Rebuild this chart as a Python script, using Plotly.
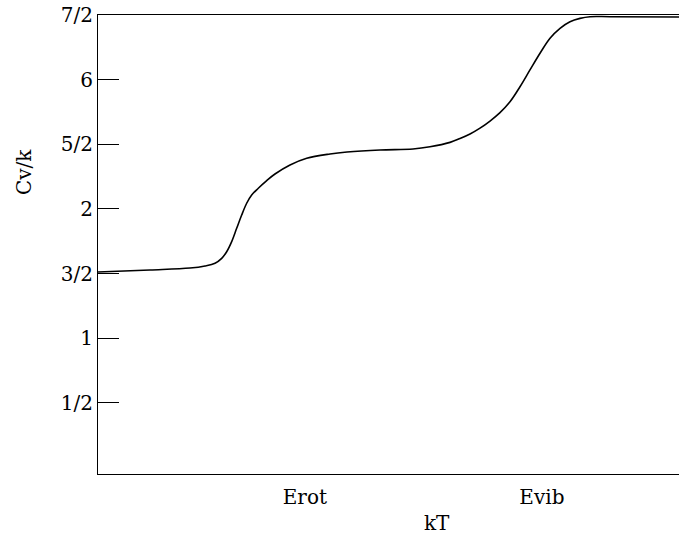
import plotly.graph_objects as go

# kT (arbitrary linear units, 0..100) and Cv/k values
kT = [0, 8.95, 15.83, 18.42, 20.14, 21.29, 22.15, 23.01, 23.87, 24.73, 25.59,
      26.45, 27.59, 29.04, 30.46, 33.05, 35.92, 39.93, 42.86, 48.54, 54.22,
      57.14, 60.59, 62.31, 64.03, 65.75, 67.47, 69.19, 70.91, 72.63, 74.35,
      76.08, 77.80, 79.52, 81.24, 82.96, 84.68, 88.12, 100]
cv = [1.512, 1.528, 1.543, 1.559, 1.580, 1.618, 1.669, 1.747, 1.850, 1.953, 2.044,
      2.108, 2.160, 2.219, 2.270, 2.340, 2.392, 2.425, 2.440, 2.456, 2.464,
      2.481, 2.515, 2.545, 2.580, 2.625, 2.680, 2.745, 2.829, 2.945, 3.075,
      3.204, 3.320, 3.397, 3.448, 3.474, 3.487, 3.487, 3.485]

y_tickvals = [0.5, 1, 1.5, 2, 2.5, 3, 3.5]
y_ticktext = ["1/2", "1", "3/2", "2", "5/2", "6", "7/2"]
x_tickvals = [35.6, 76.4]
x_ticktext = ["Erot", "Evib"]

FONT = "DejaVu Serif"

fig = go.Figure()
fig.add_trace(go.Scatter(
    x=kT, y=cv, mode="lines",
    line=dict(color="black", width=1.6, shape="spline", smoothing=1.0),
    hoverinfo="skip", showlegend=False,
))

fig.update_layout(
    width=679, height=541,
    margin=dict(l=98, r=0, t=15, b=67),
    paper_bgcolor="white", plot_bgcolor="white",
    font=dict(family=FONT, size=20, color="black"),
    showlegend=False,
)
fig.update_xaxes(
    range=[0, 100], showgrid=False, zeroline=False,
    showline=True, linecolor="black", linewidth=1, mirror=True,
    tickvals=x_tickvals, ticktext=x_ticktext,
    ticks="outside", ticklen=5, tickcolor="rgba(0,0,0,0)",
    tickfont=dict(family=FONT, size=20, color="black"),
)
fig.update_yaxes(
    range=[-0.05, 3.5], showgrid=False, zeroline=False,
    showline=True, linecolor="black", linewidth=1,
    tickvals=y_tickvals, ticktext=y_ticktext,
    ticks="inside", ticklen=21, tickcolor="black", tickwidth=1,
    tickfont=dict(family=FONT, size=20, color="black"),
)
fig.add_annotation(text="kT", xref="paper", yref="paper",
                   x=(437 - 98) / 581, y=-(523 - 474) / 459,
                   showarrow=False, font=dict(family=FONT, size=20),
                   xanchor="center", yanchor="middle")
fig.add_annotation(text="Cv/k", xref="paper", yref="paper",
                   x=-(98 - 24) / 581, y=(474 - 172) / 459,
                   showarrow=False, textangle=-90, font=dict(family=FONT, size=20),
                   xanchor="center", yanchor="middle")

fig.write_html("out.html",
               config={"displayModeBar": False},
               post_script="document.body.style.margin='0';document.body.style.overflow='hidden';")
